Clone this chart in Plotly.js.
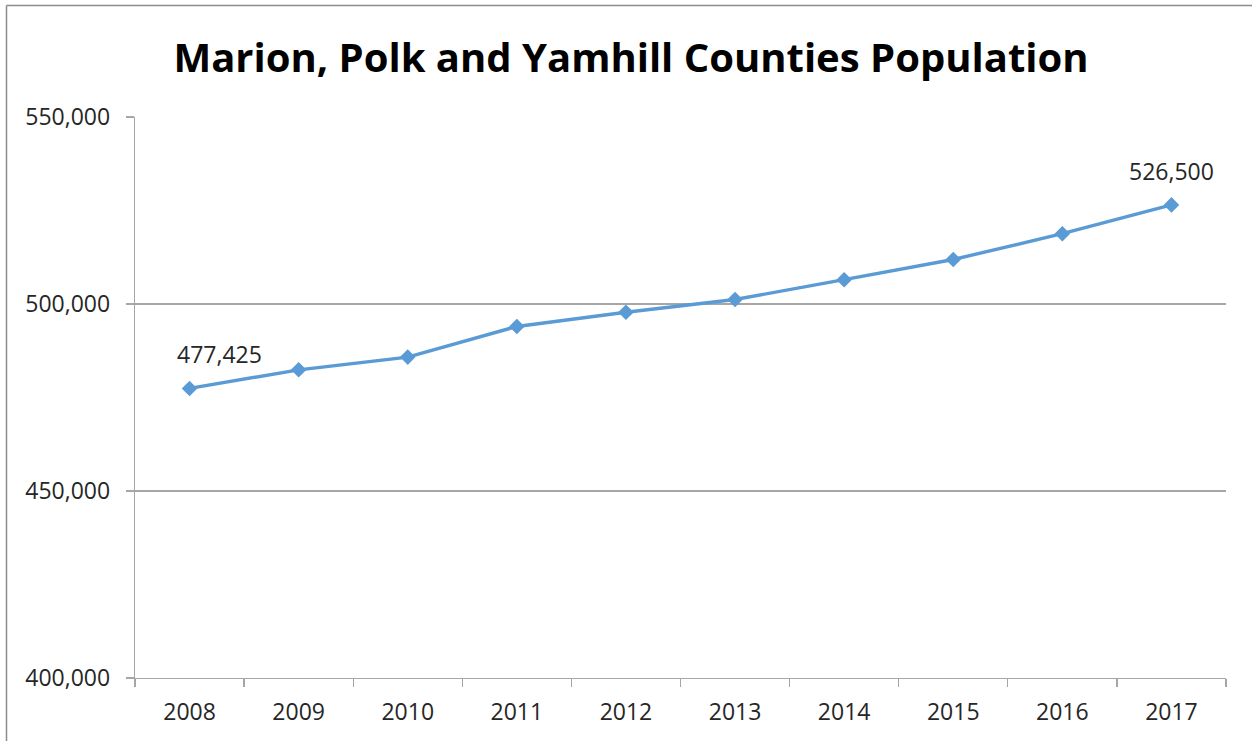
<!DOCTYPE html>
<html>
<head>
<meta charset="utf-8">
<script src="https://cdn.plot.ly/plotly-3.0.1.min.js"></script>
<style>html,body{margin:0;padding:0;background:#fff;}#chart{width:1252px;height:741px;}</style>
</head>
<body>
<div id="chart"></div>
<script>
const years = ['2008','2009','2010','2011','2012','2013','2014','2015','2016','2017'];
const population = [477425, 482400, 485800, 494000, 497800, 501200, 506500, 511900, 518800, 526500];
const labelledIndexes = [0, 9];
const titleText = 'Marion, Polk and Yamhill Counties Population';

const W = 1252, H = 741;
const margin = {l: 135, r: 26, t: 117, b: 63, pad: 0};
const plotW = W - margin.l - margin.r;
const plotH = H - margin.t - margin.b;
const FONT = 'Open Sans, sans-serif';

const trace = {
  x: years,
  y: population,
  type: 'scatter',
  mode: 'lines+markers',
  line: {color: '#5B9BD5', width: 3.4},
  marker: {symbol: 'diamond', size: 12, color: '#5B9BD5'},
  hoverinfo: 'x+y'
};

function fmt(v) {
  return String(v).replace(/\B(?=(\d{3})+(?!\d))/g, ',');
}
const annotations = [];
labelledIndexes.forEach(function (i, k) {
  annotations.push({
    x: i, y: population[i], xref: 'x', yref: 'y',
    text: fmt(population[i]), showarrow: false,
    xanchor: 'center', yanchor: 'middle',
    xshift: k === 0 ? 30 : 0, yshift: 34,
    font: {family: FONT, size: 23, color: '#262626'}
  });
});

const borderX = (6.5 - margin.l) / plotW;
const borderY = 1 + (margin.t - 5.5) / plotH;

const layout = {
  width: W, height: H,
  margin: margin,
  paper_bgcolor: '#ffffff',
  plot_bgcolor: '#ffffff',
  showlegend: false,
  title: {
    text: '<b>' + titleText + '</b>',
    x: 0.504, xanchor: 'center', y: 0.922, yanchor: 'middle',
    font: {family: FONT, size: 40, color: '#000000'}
  },
  xaxis: {
    type: 'category',
    range: [-0.5, years.length - 0.5],
    tickson: 'boundaries',
    ticks: 'outside', ticklen: 8, tickcolor: '#a6a6a6', tickwidth: 1.3,
    showline: true, linecolor: '#a6a6a6', linewidth: 1.3,
    showgrid: false, zeroline: false,
    ticklabelstandoff: 13,
    tickfont: {family: FONT, size: 23, color: '#262626'}
  },
  yaxis: {
    range: [400000, 550000],
    tickmode: 'linear', tick0: 400000, dtick: 50000,
    tickformat: ',d',
    ticks: 'outside', ticklen: 8, tickcolor: '#a6a6a6', tickwidth: 1.3,
    showline: true, linecolor: '#a6a6a6', linewidth: 1.3,
    showgrid: true, gridcolor: '#a6a6a6', gridwidth: 1.3,
    zeroline: false,
    ticklabelstandoff: 11,
    tickfont: {family: FONT, size: 23, color: '#262626'}
  },
  annotations: annotations,
  shapes: [
    {type: 'line', xref: 'paper', yref: 'paper', x0: borderX, x1: 1.2, y0: borderY, y1: borderY,
     line: {color: '#8c8c8c', width: 1.5}},
    {type: 'line', xref: 'paper', yref: 'paper', x0: borderX, x1: borderX, y0: borderY, y1: -0.2,
     line: {color: '#8c8c8c', width: 1.5}}
  ]
};

Plotly.newPlot('chart', [trace], layout, {displayModeBar: false, staticPlot: true});
</script>
</body>
</html>
